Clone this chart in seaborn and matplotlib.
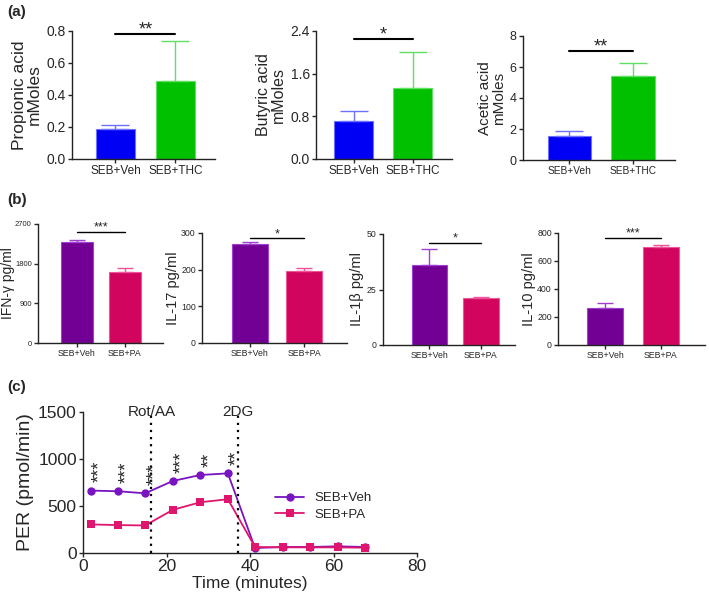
import numpy as np
import pandas as pd
import matplotlib
matplotlib.use("Agg")
import matplotlib.pyplot as plt
import seaborn as sns

# ---- panel (a): short chain fatty acids ----
groups_a = ["SEB+Veh", "SEB+THC"]
propionic = [0.19, 0.49]
propionic_err = [0.02, 0.25]
butyric = [0.71, 1.33]
butyric_err = [0.19, 0.67]
acetic = [1.55, 5.42]
acetic_err = [0.32, 0.84]
sig_a = [(0.78, "**"), (2.25, "*"), (7.03, "**")]

# ---- panel (b): cytokines ----
groups_b = ["SEB+Veh", "SEB+PA"]
ifng = [2290, 1610]
ifng_err = [45, 90]
il17 = [269, 197]
il17_err = [6, 7]
il1b = [36.0, 21.2]
il1b_err = [7.2, 0.6]
il10 = [264, 700]
il10_err = [36, 12]
sig_b = [(2518, "***"), (286, "*"), (46, "*"), (764, "***")]

# ---- panel (c): proton efflux rate ----
time_min = [1.8, 8.4, 14.9, 21.5, 28.1, 34.7, 41.2, 47.8, 54.4, 61.0, 67.6]
per_veh = [664, 657, 635, 766, 830, 847, 53, 64, 64, 71, 64]
per_pa = [304, 297, 293, 459, 540, 572, 64, 60, 60, 60, 56]
stars_c = ["***", "***", "***", "***", "**", "**"]
inject_names = ["Rot/AA", "2DG"]
inject_times = [16.4, 37.2]

sns.set_style("ticks")
plt.rcParams['font.family'] = ['Liberation Sans', 'DejaVu Sans']
plt.rcParams['axes.linewidth'] = 1.0
plt.rcParams['xtick.major.width'] = 1.0
plt.rcParams['ytick.major.width'] = 1.0
plt.rcParams['xtick.major.size'] = 3
plt.rcParams['ytick.major.size'] = 3
plt.rcParams['axes.edgecolor'] = '#222222'

W, H = 709, 596
fig = plt.figure(figsize=(W / 100, H / 100), dpi=100)


def add_ax(l, t, r, b):
    return fig.add_axes([l / W, 1 - b / H, (r - l) / W, (b - t) / H])


def bar_panel(ax, groups, vals, errs, colors, ecolors, ylim, yticks, yticklabels,
              ylabel, width, xlim, sig, tick_fs, xtick_fs, lab_fs, star_fs,
              capsize, sig_lw, labelpad=3):
    sns.barplot(x=groups, y=vals, hue=groups, palette=colors, width=width,
                ax=ax, legend=False, saturation=1)
    for p, ec in zip(ax.patches, ecolors):
        p.set_edgecolor(ec)
        p.set_linewidth(0.8)
    for i in range(len(vals)):
        ax.errorbar(i, vals[i], yerr=[[0], [errs[i]]], fmt='none',
                    ecolor=ecolors[i], elinewidth=1.0, capsize=capsize,
                    capthick=1.0, zorder=1)
    ax.set_ylim(*ylim)
    ax.set_xlim(*xlim)
    ax.set_yticks(yticks)
    ax.set_yticklabels(yticklabels, fontsize=tick_fs)
    ax.set_xticks(range(len(groups)))
    ax.set_xticklabels(groups, fontsize=xtick_fs)
    ax.set_ylabel(ylabel, fontsize=lab_fs, linespacing=1.0, labelpad=labelpad)
    ax.set_xlabel("")
    ax.tick_params(direction='out', pad=1.5)
    sns.despine(ax=ax)
    y, s = sig
    ax.plot([0, 1], [y, y], color='black', lw=sig_lw, clip_on=False)
    ax.annotate(s, xy=(0.5, y), xytext=(0, 3), textcoords='offset points',
                ha='center', va='center', fontsize=star_fs)


blue, green = '#0000f5', '#00c000'
blue_e, green_e = '#7070ff', '#60e060'
purple, pink = '#730094', '#d1045e'
purple_e, pink_e = '#a040d0', '#ee5599'

# (a)
ax = add_ax(72, 31, 215, 159)
bar_panel(ax, groups_a, propionic, propionic_err, [blue, green], [blue_e, green_e],
          (0, 0.8), [0, 0.2, 0.4, 0.6, 0.8], ["0.0", "0.2", "0.4", "0.6", "0.8"],
          "Propionic acid\nmMoles", 0.65, (-0.725, 1.66), sig_a[0],
          10, 8.5, 12.5, 13, 10, 1.5)
ax = add_ax(316, 31, 452, 159)
bar_panel(ax, groups_a, butyric, butyric_err, [blue, green], [blue_e, green_e],
          (0, 2.4), [0, 0.8, 1.6, 2.4], ["0.0", "0.8", "1.6", "2.4"],
          "Butyric acid\nmMoles", 0.66, (-0.64, 1.67), sig_a[1],
          10, 8.5, 11.5, 13, 10, 1.5)
ax = add_ax(523, 36, 675, 160)
bar_panel(ax, groups_a, acetic, acetic_err, [blue, green], [blue_e, green_e],
          (0, 8), [0, 2, 4, 6, 8], ["0", "2", "4", "6", "8"],
          "Acetic acid\nmMoles", 0.68, (-0.73, 1.66), sig_a[2],
          9, 7.3, 11, 13, 10, 1.5)

# (b)
ax = add_ax(38, 224, 163, 343)
bar_panel(ax, groups_b, ifng, ifng_err, [purple, pink], [purple_e, pink_e],
          (0, 2700), [0, 900, 1800, 2700], ["0", "900", "1800", "2700"],
          "IFN-γ pg/ml", 0.65, (-0.81, 1.79), sig_b[0],
          5.5, 6.3, 10, 9, 6, 1.0)
ax.yaxis.set_label_coords(-0.185, 0.5)
ax = add_ax(202, 233, 347, 343)
bar_panel(ax, groups_b, il17, il17_err, [purple, pink], [purple_e, pink_e],
          (0, 300), [0, 100, 200, 300], ["0", "100", "200", "300"],
          "IL-17 pg/ml", 0.66, (-0.88, 1.78), sig_b[1],
          6.3, 6.3, 10.5, 9, 6, 1.0, labelpad=1)
ax = add_ax(383, 234, 515, 345)
bar_panel(ax, groups_b, il1b, il1b_err, [purple, pink], [purple_e, pink_e],
          (0, 50), [0, 25, 50], ["0", "25", "50"],
          "IL-1β pg/ml", 0.68, (-0.9, 1.66), sig_b[2],
          6.3, 6.3, 10.5, 9, 6, 1.0, labelpad=2)
ax = add_ax(558, 233, 705, 345)
bar_panel(ax, groups_b, il10, il10_err, [purple, pink], [purple_e, pink_e],
          (0, 800), [0, 200, 400, 600, 800], ["0", "200", "400", "600", "800"],
          "IL-10 pg/ml", 0.65, (-0.85, 1.8), sig_b[3],
          6.3, 6.3, 10.5, 9, 6, 1.0, labelpad=1)

# (c)
ax = add_ax(83, 412, 417, 553)
df = pd.DataFrame({
    "time": time_min * 2,
    "PER": per_veh + per_pa,
    "group": ["SEB+Veh"] * len(time_min) + ["SEB+PA"] * len(time_min),
})
sns.lineplot(data=df, x="time", y="PER", hue="group", style="group",
             palette={"SEB+Veh": '#7a14c0', "SEB+PA": '#e0156d'},
             markers={"SEB+Veh": 'o', "SEB+PA": 's'}, dashes=False,
             markersize=6, markeredgewidth=0, lw=1.3, ax=ax)
for name, t in zip(inject_names, inject_times):
    ax.axvline(t, color='black', ls=(0, (1, 2.2)), lw=1.6)
    ax.text(t, 1500, name, ha='center', va='center', fontsize=11, clip_on=False)
for t, v, s in zip(time_min, per_veh, stars_c):
    ax.annotate(s, xy=(t, v), xytext=(6.5, 6), textcoords='offset points',
                rotation=90, ha='center', va='bottom', fontsize=13)
ax.set_xlim(0, 80)
ax.set_ylim(0, 1500)
ax.set_xticks([0, 20, 40, 60, 80])
ax.set_yticks([0, 500, 1000, 1500])
ax.tick_params(labelsize=12.5, direction='out', pad=1.5)
ax.set_xlabel("Time (minutes)", fontsize=12.5, labelpad=1)
ax.set_ylabel("PER (pmol/min)", fontsize=14, labelpad=3)
sns.despine(ax=ax)
ax.legend(loc='center left', bbox_to_anchor=(0.54, 0.33), frameon=False,
          fontsize=9.5, handlelength=2.2, handletextpad=0.8, labelspacing=0.3)

for lab, y in [("(a)", 12), ("(b)", 200), ("(c)", 387)]:
    fig.text(7 / W, 1 - y / H, lab, fontsize=11, fontweight='bold',
             ha='left', va='center')

fig.savefig("out.png", dpi=100)
